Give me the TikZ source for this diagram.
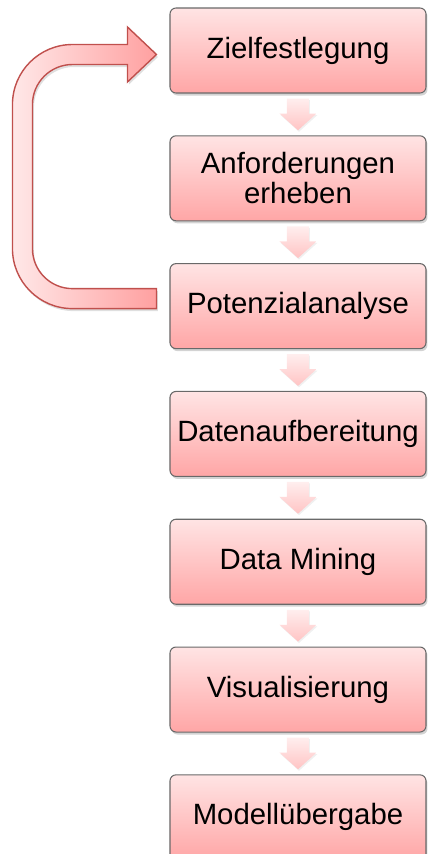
\documentclass[tikz,border=0pt]{standalone}
\usepackage{fontspec}
\setmainfont{Liberation Sans}
\usetikzlibrary{positioning,calc,shadows}
\definecolor{boxtop}{RGB}{255,228,228}
\definecolor{boxbot}{RGB}{255,166,166}
\definecolor{boxline}{RGB}{105,105,105}
\definecolor{arrtop}{RGB}{255,238,238}
\definecolor{arrbot}{RGB}{255,196,196}
\definecolor{backleft}{RGB}{255,232,232}
\definecolor{backright}{RGB}{255,160,160}
\definecolor{backline}{RGB}{192,80,77}

\begin{document}
\begin{tikzpicture}[
  phase/.style={rectangle, rounded corners=0.12cm, draw=boxline, line width=0.6pt, top color=boxtop, bottom color=boxbot, minimum width=5.12cm, minimum height=1.7cm, align=center, font=\fontsize{16.7}{17.2}\selectfont, drop shadow={shadow xshift=0.03cm, shadow yshift=-0.05cm, opacity=0.35}},
  down/.style={top color=arrtop, bottom color=arrbot, drop shadow={shadow xshift=0.02cm, shadow yshift=-0.03cm, opacity=0.12}},
  back/.style={draw=backline, line width=0.8pt, left color=backleft, right color=backright, drop shadow={shadow xshift=0.03cm, shadow yshift=-0.05cm, opacity=0.25}}]
\useasboundingbox (-5.96,-16.07) rectangle (2.6,1.01);
\node[phase](ziel) at (0,0) {Zielfestlegung};
\node[phase, below = 0.835cm of ziel](anf) {Anforderungen\\erheben};
\node[phase, below = 0.835cm of anf](pot) {Potenzialanalyse};
\node[phase, below = 0.835cm of pot](dat) {Datenaufbereitung};
\node[phase, below = 0.835cm of dat](dm) {Data Mining};
\node[phase, below = 0.835cm of dm](vis) {Visualisierung};
\node[phase, below = 0.835cm of vis](mod) {Modellübergabe};
\foreach \a/\b in {ziel/anf, anf/pot, pot/dat, dat/dm, dm/vis, vis/mod}
  \path[down] ([yshift=-0.1cm]\a.south) ++(-0.22,0) -- ++(0.44,0) -- ++(0,-0.3) -- ++(0.15,0)
    -- ([yshift=0.1cm]\b.north) -- ++(-0.37,0.335) -- ++(0.15,0) -- cycle;
\path[back] let \p1 = ([xshift=-0.26cm, yshift=0.15cm]pot.west), \p2 = ([xshift=-0.26cm, yshift=-0.08cm]ziel.west) in
  (\x1, \y1-0.2cm) -- (\x1-1.68cm, \y1-0.2cm) arc[start angle=270, end angle=180, radius=1.2cm]
  -- (\x1-2.88cm, \y2-1cm) arc[start angle=180, end angle=90, radius=1.2cm]
  -- (\x2-0.58cm, \y2+0.2cm) -- (\x2-0.58cm, \y2+0.55cm) -- (\x2, \y2)
  -- (\x2-0.58cm, \y2-0.55cm) -- (\x2-0.58cm, \y2-0.2cm)
  -- (\x1-1.68cm, \y2-0.2cm) arc[start angle=90, end angle=180, radius=0.8cm]
  -- (\x1-2.48cm, \y1+1cm) arc[start angle=180, end angle=270, radius=0.8cm]
  -- (\x1, \y1+0.2cm) -- cycle;
\end{tikzpicture}
\end{document}
